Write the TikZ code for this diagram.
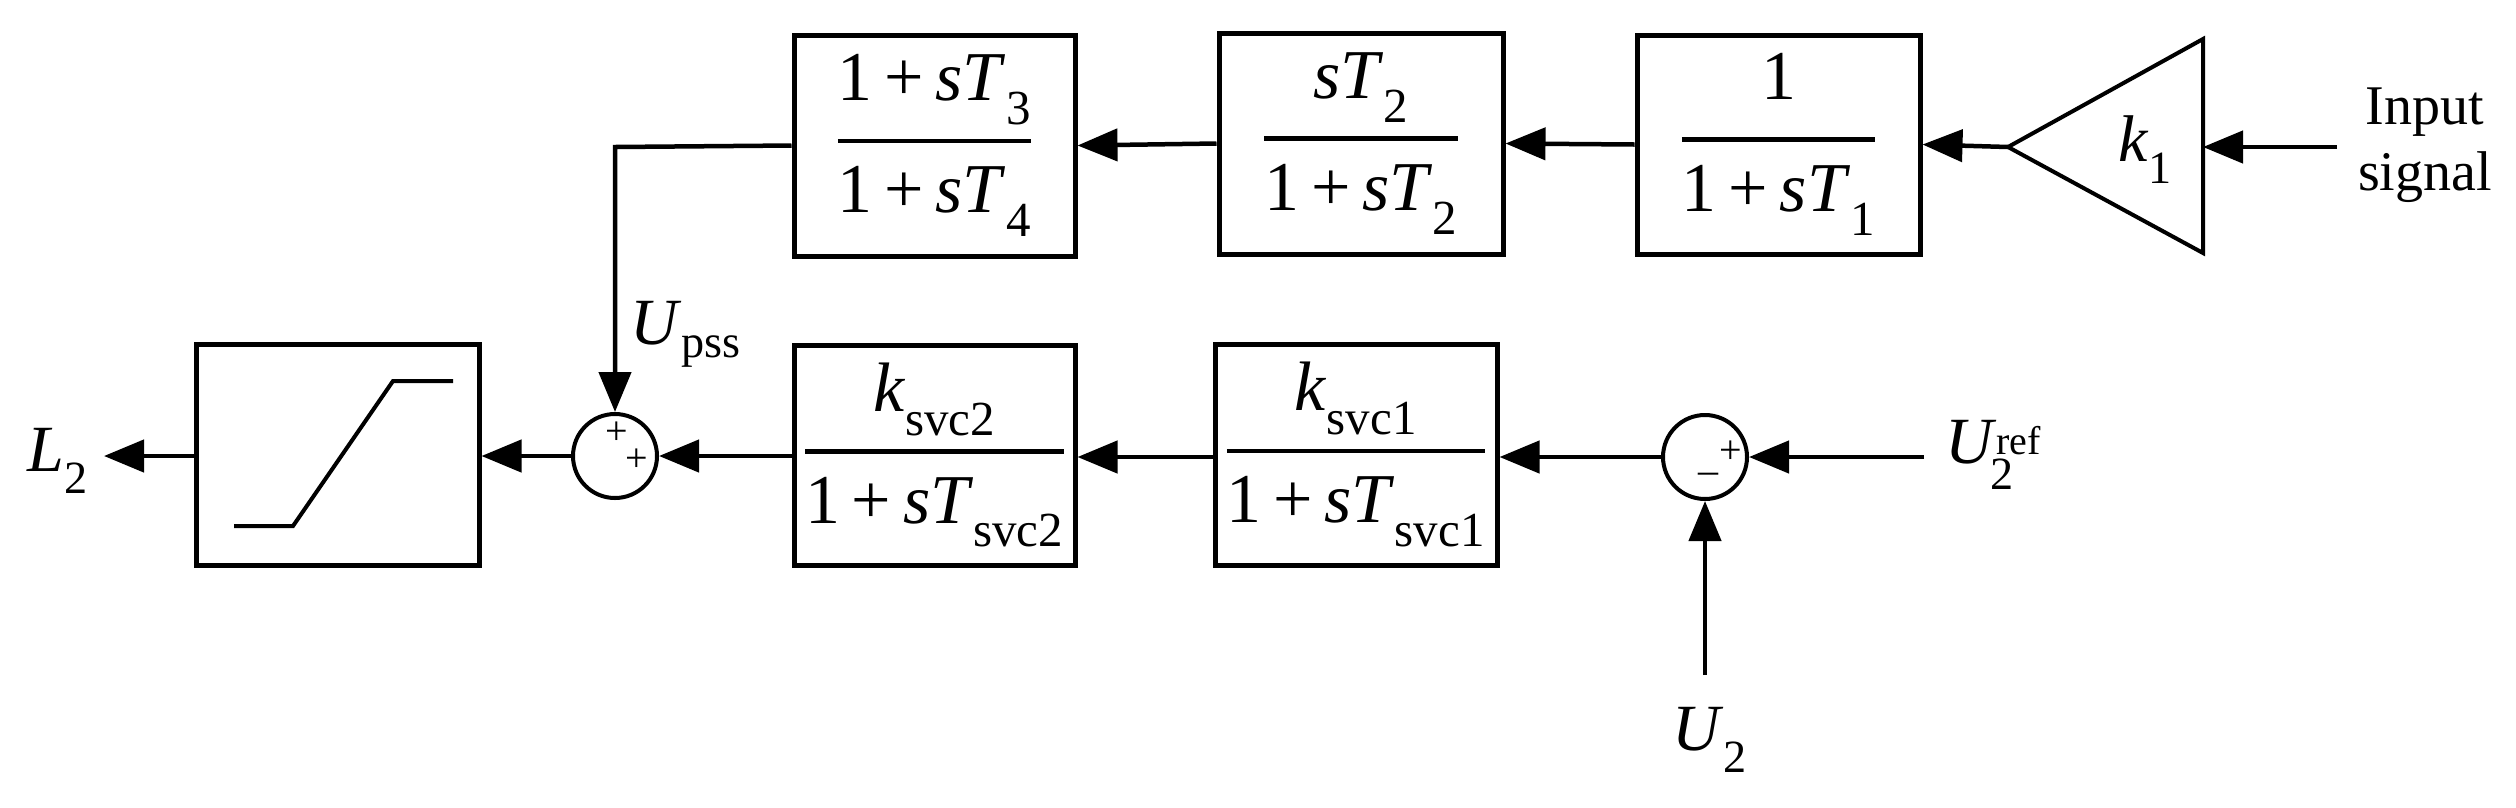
\documentclass[tikz,border=0pt]{standalone}
\usepackage{amsmath}
\usepackage{fontspec}
\setmainfont{Liberation Serif}
\usetikzlibrary{arrows.meta}
\newcommand\fr[2]{$\displaystyle\genfrac{}{}{4.5pt}{0}{\text{\rule[-24pt]{0pt}{10pt}#1}}{\text{\rule{0pt}{56pt}#2}}$}
\newcommand\sub[1]{\textsubscript{#1}}
\begin{document}
\begin{tikzpicture}[x=1pt,y=-1pt,
  blk/.style={draw,line width=5pt,inner sep=0pt},
  sumc/.style={draw,circle,line width=4pt,minimum size=84pt,inner sep=0pt},
  conn/.style={line width=4.5pt,-{Triangle[length=40pt,width=32pt]}},
  lbl/.style={font=\fontsize{66}{70}\selectfont,inner sep=0pt},
  sg/.style={font=\fontsize{40}{40}\selectfont,inner sep=0pt},
  every node/.style={font=\fontsize{70}{78}\selectfont}]
\useasboundingbox (0,0) rectangle (2516,807);
% top row
\node[blk,minimum width=281pt,minimum height=221pt] (b3) at (934.5,145.5) {\fr{1\,+\,\textit{sT}\sub{3}}{1\,+\,\textit{sT}\sub{4}}};
\node[blk,minimum width=284pt,minimum height=221pt] (b2) at (1361,143.5) {\fr{\textit{sT}\sub{2}}{1\,+\,\textit{sT}\sub{2}}};
\node[blk,minimum width=283pt,minimum height=219pt] (b1) at (1778.5,144.5) {\fr{1}{1\,+\,\textit{sT}\sub{1}}};
\coordinate (tip) at (2008,147);
\draw[line width=4pt,line join=miter] (tip) -- (2203,39) -- (2203,253) -- cycle;
\coordinate (tb) at (2203,147);
\node[lbl] (k1) at (2145,150) {\textit{k}\sub{1}};
\node[align=center,font=\fontsize{56}{66}\selectfont,inner sep=0pt] (in) at (2425,145) {Input\\signal};
\coordinate (ins) at (2337,147);
% bottom row
\node[blk,minimum width=283pt,minimum height=221pt] (bs) at (337.5,454.5) {};
\draw[line width=4pt] (234,526) -- (293,526) -- (393,381) -- (453,381);
\node[sumc] (s1) at (615,456) {};
\node[sg] at (617,433) {+};
\node[sg] at (637,460) {+};
\node[blk,minimum width=281pt,minimum height=220pt] (bk2) at (934.5,455) {\fr{\textit{k}\sub{svc2}}{1\,+\,\textit{sT}\sub{svc2}}};
\node[blk,minimum width=282pt,minimum height=221pt] (bk1) at (1356,454.5) {\fr{\textit{k}\sub{svc1}}{1\,+\,\textit{sT}\sub{svc1}}};
\node[sumc] (s2) at (1705,457) {};
\node[sg] at (1731,452) {+};
\node[sg] at (1708,478) {\textendash};
\node[lbl] (L2) at (58,461) {\textit{L}\sub{2}};
\node[lbl] (upss) at (686,334) {\textit{U}\sub{pss}};
\node[lbl,anchor=west] (uref) at (1945,455) {\textit{U}$^{\text{\fontsize{40}{40}\selectfont ref}}_{\hspace{-6pt}\text{2}}$};
\node[lbl] (u2) at (1710,740) {\textit{U}\sub{2}};
\coordinate (urs) at (1924,457);
\coordinate (u2s) at (1705,675);
\coordinate (l2e) at (104,456);
\coordinate (fb) at (615,147);
% connectors
\draw[conn] (ins) -- (tb);
\draw[conn] (tip) -- (b1.east);
\draw[conn] (b1.west) -- (b2.east);
\draw[conn] (b2.west) -- (b3.east);
\draw[conn] (b3.west) -- (fb) -- (s1.north);
\draw[conn] (urs) -- (s2.east);
\draw[conn] (u2s) -- (s2.south);
\draw[conn] (s2.west) -- (bk1.east |- s2.west);
\draw[conn] (bk1.west |- s2.west) -- (bk2.east |- s2.west);
\draw[conn] (bk2.west |- s1.east) -- (s1.east);
\draw[conn] (s1.west) -- (bs.east |- s1.west);
\draw[conn] (bs.west |- s1.west) -- (l2e);
\end{tikzpicture}
\end{document}
